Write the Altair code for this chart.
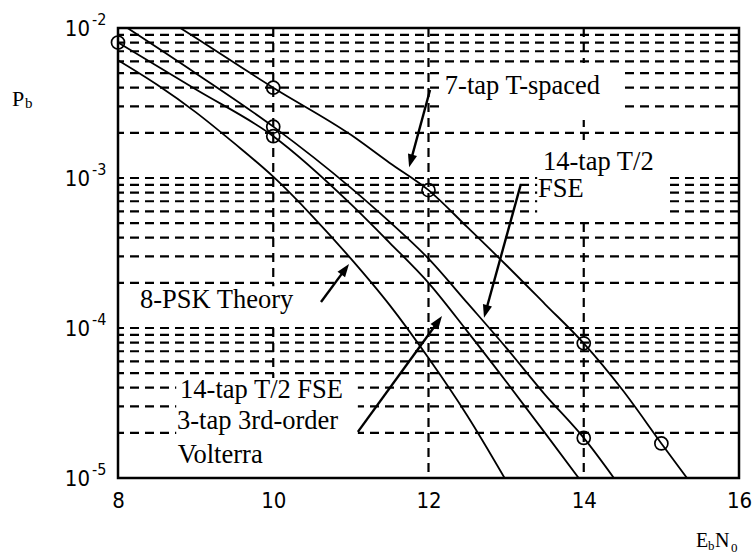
import math
import altair as alt
import pandas as pd

# ---- BER curves: Eb/N0 (dB) and bit error probability ----
snr_7tap = [8.5, 9, 10, 11, 11.5, 12, 12.5, 13, 13.5, 14, 14.5, 15, 15.5]
ber_7tap = [1.26e-2, 8.6e-3, 4.0e-3, 1.94e-3, 1.26e-3, 8.3e-4, 4.7e-4, 2.63e-4,
            1.445e-4, 7.9e-5, 3.86e-5, 1.7e-5, 7.6e-6]

snr_fse = [8, 9, 10, 11, 11.5, 12, 12.5, 13, 13.5, 14, 14.5]
ber_fse = [1.1e-2, 5.0e-3, 2.2e-3, 8.6e-4, 5.1e-4, 2.9e-4, 1.47e-4, 7.4e-5,
           3.6e-5, 1.85e-5, 8.3e-6]

snr_volterra = [8, 9, 10, 11, 11.5, 12, 12.5, 13, 13.5, 14]
ber_volterra = [8.0e-3, 3.9e-3, 1.9e-3, 6.7e-4, 3.7e-4, 2.0e-4, 9.5e-5, 4.4e-5,
                2.0e-5, 9.0e-6]

snr_theory = [8, 8.5, 9, 9.5, 10, 10.5, 11, 11.5, 12, 12.5, 13]
ber_theory = [6.1e-3, 4.2e-3, 2.75e-3, 1.7e-3, 1.02e-3, 5.6e-4, 2.9e-4, 1.42e-4,
              6.3e-5, 2.6e-5, 9.6e-6]

# simulated points (open circles)
point_snr = [10, 12, 14, 15, 10, 14, 8, 10]
point_ber = [4.0e-3, 8.3e-4, 7.9e-5, 1.7e-5, 2.2e-3, 1.85e-5, 8.0e-3, 1.9e-3]

# ---- annotations ----
label_text = ["7-tap T-spaced", "14-tap T/2", "FSE", "8-PSK Theory",
              "14-tap T/2 FSE", "3-tap 3rd-order", "Volterra"]
label_x = [12.21, 13.475, 13.41, 8.283, 8.80, 8.76, 8.77]
label_y = [3.63e-3, 1.13e-3, 7.47e-4, 1.36e-4, 3.41e-5, 2.12e-5, 1.26e-5]

arrow_tail_x = [12.02, 13.19, 10.615, 11.09]
arrow_tail_y = [3.86e-3, 9.1e-4, 1.49e-4, 2.03e-5]
arrow_tip_x = [11.75, 12.715, 10.976, 12.174]
arrow_tip_y = [1.18e-3, 1.17e-4, 2.67e-4, 1.2e-4]

# blank areas behind the annotation text (grid hidden there)
blank_x = [12.21, 13.40, 8.22, 8.75]
blank_x2 = [14.49, 15.05, 10.35, 11.09]
blank_y = [2.44e-3, 5.5e-4, 1.03e-4, 1.05e-5]
blank_y2 = [5.85e-3, 1.79e-3, 1.9e-4, 4.64e-5]

decades = [1e-2, 1e-3, 1e-4, 1e-5]
decade_exp = ["-2", "-3", "-4", "-5"]
x_ticks = [8, 10, 12, 14, 16]
x_grid = [10, 12, 14]
y_grid = [m * 10.0 ** e for e in (-5, -4, -3) for m in range(1, 10)][1:]

W, H = 621, 450
X0, X1 = 8, 16
Y0, Y1 = 1e-5, 1e-2
SANS = "Liberation Sans Narrow, DejaVu Sans Condensed, Liberation Sans, Arial"
SERIF = "Liberation Serif, Times New Roman, serif"


def to_px(x, y):
    return ((x - X0) / (X1 - X0) * W,
            (math.log10(Y1) - math.log10(y)) / (math.log10(Y1) - math.log10(Y0)) * H)


def from_px(px, py):
    x = X0 + px / W * (X1 - X0)
    y = 10 ** (math.log10(Y1) - py / H * (math.log10(Y1) - math.log10(Y0)))
    return x, y


xs = alt.Scale(domain=[X0, X1], nice=False, zero=False)
ys = alt.Scale(type="log", domain=[Y0, Y1], nice=False)
x_axis = alt.Axis(values=x_ticks, title=None, grid=False, ticks=False, domain=False,
                  labelFont=SANS, labelFontSize=22, labelColor="black",
                  labelPadding=12, labelFlush=False)
xe = alt.X("x:Q", scale=xs, axis=x_axis)
ye = alt.Y("y:Q", scale=ys, axis=None)

curves = pd.concat([
    pd.DataFrame({"x": snr_7tap, "y": ber_7tap, "curve": "7-tap T-spaced"}),
    pd.DataFrame({"x": snr_fse, "y": ber_fse, "curve": "14-tap T/2 FSE"}),
    pd.DataFrame({"x": snr_volterra, "y": ber_volterra, "curve": "FSE + Volterra"}),
    pd.DataFrame({"x": snr_theory, "y": ber_theory, "curve": "8-PSK Theory"}),
])
points = pd.DataFrame({"x": point_snr, "y": point_ber})
labels = pd.DataFrame({"x": label_x, "y": label_y, "t": label_text})
blanks = pd.DataFrame({"x": blank_x, "x2": blank_x2, "y": blank_y, "y2": blank_y2})

# arrows: shaft ends a little behind the tip, head rotated along the shaft
head_len = 13.0
rows = []
for tx, ty, hx, hy in zip(arrow_tail_x, arrow_tail_y, arrow_tip_x, arrow_tip_y):
    p0 = to_px(tx, ty)
    p1 = to_px(hx, hy)
    dx, dy = p1[0] - p0[0], p1[1] - p0[1]
    d = math.hypot(dx, dy)
    bx, by = from_px(p1[0] - dx / d * head_len * 0.7, p1[1] - dy / d * head_len * 0.7)
    ang = math.degrees(math.atan2(dx, -dy)) % 360
    rows.append({"x": tx, "y": ty, "x2": bx, "y2": by, "hx": hx, "hy": hy, "angle": ang})
arrows = pd.DataFrame(rows)

hgrid = pd.DataFrame({"y": y_grid})
vgrid = pd.DataFrame({"x": x_grid})
dec = pd.DataFrame({"y": decades, "exp": decade_exp, "base": ["10"] * 4})

dash = [9, 6]
hgrid_layer = alt.Chart(hgrid).mark_rule(color="black", strokeWidth=2.2, strokeDash=dash).encode(y=ye)
vgrid_layer = alt.Chart(vgrid).mark_rule(color="black", strokeWidth=2.2, strokeDash=dash).encode(x=xe)
blank_layer = alt.Chart(blanks).mark_rect(color="white", opacity=1).encode(
    x=xe, x2="x2", y=ye, y2="y2")
line_layer = alt.Chart(curves).mark_line(
    color="black", strokeWidth=1.8, interpolate="monotone", clip=True
).encode(x=xe, y=ye, detail="curve:N")
point_layer = alt.Chart(points).mark_point(
    shape="circle", filled=False, size=170, color="black", strokeWidth=1.7, opacity=1
).encode(x=xe, y=ye)
shaft_layer = alt.Chart(arrows).mark_rule(color="black", strokeWidth=2.4).encode(
    x=xe, y=ye, x2="x2", y2="y2")
head_layer = alt.Chart(arrows).mark_point(
    shape="M0,0L-0.36,1L0.36,1Z", filled=True, size=(2 * head_len) ** 2,
    color="black", opacity=1
).encode(x=alt.X("hx:Q", scale=xs, axis=x_axis), y=alt.Y("hy:Q", scale=ys, axis=None),
         angle=alt.Angle("angle:Q", scale=None))
text_layer = alt.Chart(labels).mark_text(
    align="left", baseline="alphabetic", font=SERIF, fontSize=26.5, color="black"
).encode(x=xe, y=ye, text="t:N")

# y tick labels written as 10 with a raised exponent
base_layer = alt.Chart(dec).mark_text(
    align="right", baseline="middle", dy=1, font=SANS, fontSize=22, color="black"
).encode(x=alt.value(-28), y=ye, text="base:N")
exp_layer = alt.Chart(dec).mark_text(
    align="left", baseline="middle", dy=-8, font=SANS, fontSize=16, color="black"
).encode(x=alt.value(-26), y=ye, text="exp:N")

# axis titles with subscripts
ttl = pd.DataFrame({
    "t": ["P", "b", "E", "b", "N", "0"],
    "px": [-106, -93, 578, 590, 597, 613],
    "py": [78, 80, 519, 522, 519, 524],
    "fs": [22, 15, 20, 13, 20, 13],
})
title_layer = alt.Chart(ttl).mark_text(
    align="left", baseline="alphabetic", font=SERIF, color="black"
).encode(x=alt.X("px:Q", scale=None), y=alt.Y("py:Q", scale=None),
         text="t:N", size=alt.Size("fs:Q", scale=None))

chart = alt.layer(
    hgrid_layer, vgrid_layer, blank_layer, line_layer, point_layer,
    shaft_layer, head_layer, text_layer, base_layer, exp_layer, title_layer
).properties(
    width=W, height=H,
    autosize=alt.AutoSizeParams(type="none"),
    padding={"left": 118, "top": 28, "right": 17, "bottom": 78},
    background="white",
).configure_view(stroke="black", strokeWidth=2.5)

chart.save("out.html", embed_options={"renderer": "svg", "actions": False})
